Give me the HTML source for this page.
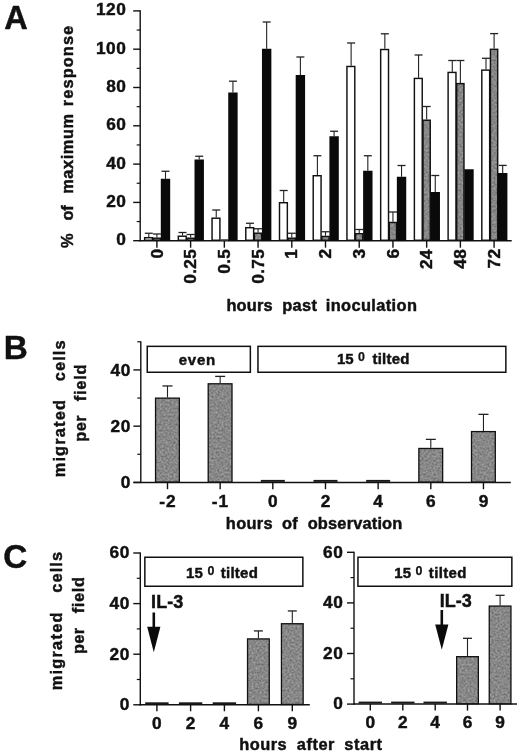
<!DOCTYPE html>
<html><head><meta charset="utf-8"><title>Figure</title>
<style>
html,body{margin:0;padding:0;background:#fff;}
svg{display:block;}
text{font-family:"Liberation Sans",Arial,Helvetica,sans-serif;font-weight:bold;fill:#111;stroke:#111;stroke-width:0.45;font-kerning:none;white-space:pre;}
</style></head><body>
<svg width="520" height="755" viewBox="0 0 520 755">
<defs>
<filter id="nz" x="0" y="0" width="1" height="1" color-interpolation-filters="sRGB">
<feTurbulence type="fractalNoise" baseFrequency="0.5" numOctaves="2" seed="7" result="t"/>
<feColorMatrix in="t" type="matrix" values="0.36 0 0 0 0.35  0.36 0 0 0 0.35  0.36 0 0 0 0.35  0 0 0 0 1" result="g"/>
<feComposite in="g" in2="SourceGraphic" operator="in"/>
</filter>
</defs>
<rect width="520" height="755" fill="#fff"/>
<line x1="140.20" y1="10.30" x2="140.20" y2="241.30" stroke="#111" stroke-width="1.4"/>
<line x1="133.20" y1="240.70" x2="140.20" y2="240.70" stroke="#111" stroke-width="1.4"/>
<text y="245.25" font-size="17.3"><tspan x="116.36" letter-spacing="0.000">0</tspan></text>
<line x1="133.20" y1="202.40" x2="140.20" y2="202.40" stroke="#111" stroke-width="1.4"/>
<text y="206.95" font-size="17.3"><tspan x="106.14" letter-spacing="0.600">20</tspan></text>
<line x1="133.20" y1="164.10" x2="140.20" y2="164.10" stroke="#111" stroke-width="1.4"/>
<text y="168.65" font-size="17.3"><tspan x="106.14" letter-spacing="0.600">40</tspan></text>
<line x1="133.20" y1="125.80" x2="140.20" y2="125.80" stroke="#111" stroke-width="1.4"/>
<text y="130.35" font-size="17.3"><tspan x="106.14" letter-spacing="0.600">60</tspan></text>
<line x1="133.20" y1="87.50" x2="140.20" y2="87.50" stroke="#111" stroke-width="1.4"/>
<text y="92.05" font-size="17.3"><tspan x="106.14" letter-spacing="0.600">80</tspan></text>
<line x1="133.20" y1="49.20" x2="140.20" y2="49.20" stroke="#111" stroke-width="1.4"/>
<text y="53.75" font-size="17.3"><tspan x="95.92" letter-spacing="0.600">100</tspan></text>
<line x1="133.20" y1="10.90" x2="140.20" y2="10.90" stroke="#111" stroke-width="1.4"/>
<text y="15.45" font-size="17.3"><tspan x="95.92" letter-spacing="0.600">120</tspan></text>
<line x1="136.70" y1="221.55" x2="140.20" y2="221.55" stroke="#111" stroke-width="1.2"/>
<line x1="136.70" y1="183.25" x2="140.20" y2="183.25" stroke="#111" stroke-width="1.2"/>
<line x1="136.70" y1="144.95" x2="140.20" y2="144.95" stroke="#111" stroke-width="1.2"/>
<line x1="136.70" y1="106.65" x2="140.20" y2="106.65" stroke="#111" stroke-width="1.2"/>
<line x1="136.70" y1="68.35" x2="140.20" y2="68.35" stroke="#111" stroke-width="1.2"/>
<line x1="136.70" y1="30.05" x2="140.20" y2="30.05" stroke="#111" stroke-width="1.2"/>
<line x1="139.50" y1="240.70" x2="511.70" y2="240.70" stroke="#111" stroke-width="1.5"/>
<line x1="156.90" y1="240.70" x2="156.90" y2="247.70" stroke="#111" stroke-width="1.4"/>
<text transform="translate(162.55,0) rotate(-90)" font-size="17.3"><tspan x="-258.54" letter-spacing="0.000">0</tspan></text>
<line x1="148.80" y1="233.25" x2="148.80" y2="237.00" stroke="#222" stroke-width="1.1"/>
<line x1="144.80" y1="233.25" x2="152.80" y2="233.25" stroke="#222" stroke-width="1.3"/>
<rect x="144.62" y="237.72" width="7.85" height="2.55" fill="#fff" stroke="#111" stroke-width="1.45"/>
<line x1="156.90" y1="234.00" x2="156.90" y2="237.50" stroke="#222" stroke-width="1.1"/>
<line x1="152.90" y1="234.00" x2="160.90" y2="234.00" stroke="#222" stroke-width="1.3"/>
<rect x="153.22" y="238.22" width="7.25" height="2.05" fill="#8c8c8c" filter="url(#nz)"/>
<rect x="153.22" y="238.22" width="7.25" height="2.05" fill="none" stroke="#111" stroke-width="1.45"/>
<line x1="165.50" y1="171.25" x2="165.50" y2="178.75" stroke="#222" stroke-width="1.1"/>
<line x1="161.50" y1="171.25" x2="169.50" y2="171.25" stroke="#222" stroke-width="1.3"/>
<rect x="160.80" y="178.75" width="9.4" height="62.25" fill="#0a0a0a"/>
<line x1="190.62" y1="240.70" x2="190.62" y2="247.70" stroke="#111" stroke-width="1.4"/>
<text transform="translate(196.27,0) rotate(-90)" font-size="17.3"><tspan x="-283.71" letter-spacing="0.300">0.25</tspan></text>
<line x1="182.52" y1="232.50" x2="182.52" y2="235.50" stroke="#222" stroke-width="1.1"/>
<line x1="178.52" y1="232.50" x2="186.52" y2="232.50" stroke="#222" stroke-width="1.3"/>
<rect x="178.34" y="236.22" width="7.85" height="4.05" fill="#fff" stroke="#111" stroke-width="1.45"/>
<line x1="190.62" y1="234.50" x2="190.62" y2="237.50" stroke="#222" stroke-width="1.1"/>
<line x1="186.62" y1="234.50" x2="194.62" y2="234.50" stroke="#222" stroke-width="1.3"/>
<rect x="186.94" y="238.22" width="7.25" height="2.05" fill="#8c8c8c" filter="url(#nz)"/>
<rect x="186.94" y="238.22" width="7.25" height="2.05" fill="none" stroke="#111" stroke-width="1.45"/>
<line x1="199.22" y1="156.25" x2="199.22" y2="159.50" stroke="#222" stroke-width="1.1"/>
<line x1="195.22" y1="156.25" x2="203.22" y2="156.25" stroke="#222" stroke-width="1.3"/>
<rect x="194.52" y="159.50" width="9.4" height="81.50" fill="#0a0a0a"/>
<line x1="224.34" y1="240.70" x2="224.34" y2="247.70" stroke="#111" stroke-width="1.4"/>
<text transform="translate(229.99,0) rotate(-90)" font-size="17.3"><tspan x="-273.79" letter-spacing="0.300">0.5</tspan></text>
<line x1="216.24" y1="210.00" x2="216.24" y2="217.50" stroke="#222" stroke-width="1.1"/>
<line x1="212.24" y1="210.00" x2="220.24" y2="210.00" stroke="#222" stroke-width="1.3"/>
<rect x="212.06" y="218.22" width="7.85" height="22.05" fill="#fff" stroke="#111" stroke-width="1.45"/>
<line x1="220.14" y1="239.80" x2="228.64" y2="239.80" stroke="#555" stroke-width="1.4"/>
<line x1="232.94" y1="81.20" x2="232.94" y2="92.50" stroke="#222" stroke-width="1.1"/>
<line x1="228.94" y1="81.20" x2="236.94" y2="81.20" stroke="#222" stroke-width="1.3"/>
<rect x="228.24" y="92.50" width="9.4" height="148.50" fill="#0a0a0a"/>
<line x1="258.06" y1="240.70" x2="258.06" y2="247.70" stroke="#111" stroke-width="1.4"/>
<text transform="translate(263.71,0) rotate(-90)" font-size="17.3"><tspan x="-283.71" letter-spacing="0.300">0.75</tspan></text>
<line x1="249.96" y1="223.25" x2="249.96" y2="227.00" stroke="#222" stroke-width="1.1"/>
<line x1="245.96" y1="223.25" x2="253.96" y2="223.25" stroke="#222" stroke-width="1.3"/>
<rect x="245.78" y="227.72" width="7.85" height="12.55" fill="#fff" stroke="#111" stroke-width="1.45"/>
<line x1="258.06" y1="228.75" x2="258.06" y2="232.50" stroke="#222" stroke-width="1.1"/>
<line x1="254.06" y1="228.75" x2="262.06" y2="228.75" stroke="#222" stroke-width="1.3"/>
<rect x="254.38" y="233.22" width="7.25" height="7.05" fill="#8c8c8c" filter="url(#nz)"/>
<rect x="254.38" y="233.22" width="7.25" height="7.05" fill="none" stroke="#111" stroke-width="1.45"/>
<line x1="266.66" y1="22.00" x2="266.66" y2="48.75" stroke="#222" stroke-width="1.1"/>
<line x1="262.66" y1="22.00" x2="270.66" y2="22.00" stroke="#222" stroke-width="1.3"/>
<rect x="261.96" y="48.75" width="9.4" height="192.25" fill="#0a0a0a"/>
<line x1="291.78" y1="240.70" x2="291.78" y2="247.70" stroke="#111" stroke-width="1.4"/>
<text transform="translate(297.43,0) rotate(-90)" font-size="17.3"><tspan x="-258.76" letter-spacing="0.000">1</tspan></text>
<line x1="283.68" y1="190.50" x2="283.68" y2="202.00" stroke="#222" stroke-width="1.1"/>
<line x1="279.68" y1="190.50" x2="287.68" y2="190.50" stroke="#222" stroke-width="1.3"/>
<rect x="279.50" y="202.72" width="7.85" height="37.55" fill="#fff" stroke="#111" stroke-width="1.45"/>
<line x1="291.78" y1="233.25" x2="291.78" y2="237.50" stroke="#222" stroke-width="1.1"/>
<line x1="287.78" y1="233.25" x2="295.78" y2="233.25" stroke="#222" stroke-width="1.3"/>
<rect x="288.11" y="238.22" width="7.25" height="2.05" fill="#8c8c8c" filter="url(#nz)"/>
<rect x="288.11" y="238.22" width="7.25" height="2.05" fill="none" stroke="#111" stroke-width="1.45"/>
<line x1="300.38" y1="57.00" x2="300.38" y2="75.00" stroke="#222" stroke-width="1.1"/>
<line x1="296.38" y1="57.00" x2="304.38" y2="57.00" stroke="#222" stroke-width="1.3"/>
<rect x="295.68" y="75.00" width="9.4" height="166.00" fill="#0a0a0a"/>
<line x1="325.50" y1="240.70" x2="325.50" y2="247.70" stroke="#111" stroke-width="1.4"/>
<text transform="translate(331.15,0) rotate(-90)" font-size="17.3"><tspan x="-258.55" letter-spacing="0.000">2</tspan></text>
<line x1="317.40" y1="155.75" x2="317.40" y2="175.00" stroke="#222" stroke-width="1.1"/>
<line x1="313.40" y1="155.75" x2="321.40" y2="155.75" stroke="#222" stroke-width="1.3"/>
<rect x="313.22" y="175.72" width="7.85" height="64.55" fill="#fff" stroke="#111" stroke-width="1.45"/>
<line x1="325.50" y1="231.75" x2="325.50" y2="235.75" stroke="#222" stroke-width="1.1"/>
<line x1="321.50" y1="231.75" x2="329.50" y2="231.75" stroke="#222" stroke-width="1.3"/>
<rect x="321.82" y="236.47" width="7.25" height="3.80" fill="#8c8c8c" filter="url(#nz)"/>
<rect x="321.82" y="236.47" width="7.25" height="3.80" fill="none" stroke="#111" stroke-width="1.45"/>
<line x1="334.10" y1="131.25" x2="334.10" y2="136.25" stroke="#222" stroke-width="1.1"/>
<line x1="330.10" y1="131.25" x2="338.10" y2="131.25" stroke="#222" stroke-width="1.3"/>
<rect x="329.40" y="136.25" width="9.4" height="104.75" fill="#0a0a0a"/>
<line x1="359.22" y1="240.70" x2="359.22" y2="247.70" stroke="#111" stroke-width="1.4"/>
<text transform="translate(364.87,0) rotate(-90)" font-size="17.3"><tspan x="-258.62" letter-spacing="0.000">3</tspan></text>
<line x1="351.12" y1="43.00" x2="351.12" y2="65.75" stroke="#222" stroke-width="1.1"/>
<line x1="347.12" y1="43.00" x2="355.12" y2="43.00" stroke="#222" stroke-width="1.3"/>
<rect x="346.94" y="66.47" width="7.85" height="173.80" fill="#fff" stroke="#111" stroke-width="1.45"/>
<line x1="359.22" y1="229.50" x2="359.22" y2="233.00" stroke="#222" stroke-width="1.1"/>
<line x1="355.22" y1="229.50" x2="363.22" y2="229.50" stroke="#222" stroke-width="1.3"/>
<rect x="355.55" y="233.72" width="7.25" height="6.55" fill="#8c8c8c" filter="url(#nz)"/>
<rect x="355.55" y="233.72" width="7.25" height="6.55" fill="none" stroke="#111" stroke-width="1.45"/>
<line x1="367.82" y1="155.75" x2="367.82" y2="170.75" stroke="#222" stroke-width="1.1"/>
<line x1="363.82" y1="155.75" x2="371.82" y2="155.75" stroke="#222" stroke-width="1.3"/>
<rect x="363.12" y="170.75" width="9.4" height="70.25" fill="#0a0a0a"/>
<line x1="392.94" y1="240.70" x2="392.94" y2="247.70" stroke="#111" stroke-width="1.4"/>
<text transform="translate(398.59,0) rotate(-90)" font-size="17.3"><tspan x="-258.62" letter-spacing="0.000">6</tspan></text>
<line x1="384.84" y1="33.80" x2="384.84" y2="48.80" stroke="#222" stroke-width="1.1"/>
<line x1="380.84" y1="33.80" x2="388.84" y2="33.80" stroke="#222" stroke-width="1.3"/>
<rect x="380.67" y="49.52" width="7.85" height="190.75" fill="#fff" stroke="#111" stroke-width="1.45"/>
<line x1="392.94" y1="212.00" x2="392.94" y2="221.75" stroke="#222" stroke-width="1.1"/>
<line x1="388.94" y1="212.00" x2="396.94" y2="212.00" stroke="#222" stroke-width="1.3"/>
<rect x="389.27" y="222.47" width="7.25" height="17.80" fill="#8c8c8c" filter="url(#nz)"/>
<rect x="389.27" y="222.47" width="7.25" height="17.80" fill="none" stroke="#111" stroke-width="1.45"/>
<line x1="401.54" y1="165.50" x2="401.54" y2="176.75" stroke="#222" stroke-width="1.1"/>
<line x1="397.54" y1="165.50" x2="405.54" y2="165.50" stroke="#222" stroke-width="1.3"/>
<rect x="396.84" y="176.75" width="9.4" height="64.25" fill="#0a0a0a"/>
<line x1="426.66" y1="240.70" x2="426.66" y2="247.70" stroke="#111" stroke-width="1.4"/>
<text transform="translate(432.31,0) rotate(-90)" font-size="17.3"><tspan x="-269.07" letter-spacing="0.300">24</tspan></text>
<line x1="418.56" y1="55.00" x2="418.56" y2="77.70" stroke="#222" stroke-width="1.1"/>
<line x1="414.56" y1="55.00" x2="422.56" y2="55.00" stroke="#222" stroke-width="1.3"/>
<rect x="414.38" y="78.42" width="7.85" height="161.85" fill="#fff" stroke="#111" stroke-width="1.45"/>
<line x1="426.66" y1="106.50" x2="426.66" y2="119.50" stroke="#222" stroke-width="1.1"/>
<line x1="422.66" y1="106.50" x2="430.66" y2="106.50" stroke="#222" stroke-width="1.3"/>
<rect x="422.99" y="120.22" width="7.25" height="120.05" fill="#8c8c8c" filter="url(#nz)"/>
<rect x="422.99" y="120.22" width="7.25" height="120.05" fill="none" stroke="#111" stroke-width="1.45"/>
<line x1="435.26" y1="175.50" x2="435.26" y2="192.00" stroke="#222" stroke-width="1.1"/>
<line x1="431.26" y1="175.50" x2="439.26" y2="175.50" stroke="#222" stroke-width="1.3"/>
<rect x="430.56" y="192.00" width="9.4" height="49.00" fill="#0a0a0a"/>
<line x1="460.38" y1="240.70" x2="460.38" y2="247.70" stroke="#111" stroke-width="1.4"/>
<text transform="translate(466.03,0) rotate(-90)" font-size="17.3"><tspan x="-268.64" letter-spacing="0.300">48</tspan></text>
<line x1="452.28" y1="60.50" x2="452.28" y2="71.70" stroke="#222" stroke-width="1.1"/>
<line x1="448.28" y1="60.50" x2="456.28" y2="60.50" stroke="#222" stroke-width="1.3"/>
<rect x="448.11" y="72.42" width="7.85" height="167.85" fill="#fff" stroke="#111" stroke-width="1.45"/>
<line x1="460.38" y1="60.50" x2="460.38" y2="82.90" stroke="#222" stroke-width="1.1"/>
<line x1="456.38" y1="60.50" x2="464.38" y2="60.50" stroke="#222" stroke-width="1.3"/>
<rect x="456.71" y="83.62" width="7.25" height="156.65" fill="#8c8c8c" filter="url(#nz)"/>
<rect x="456.71" y="83.62" width="7.25" height="156.65" fill="none" stroke="#111" stroke-width="1.45"/>
<rect x="464.28" y="169.25" width="9.4" height="71.75" fill="#0a0a0a"/>
<line x1="494.10" y1="240.70" x2="494.10" y2="247.70" stroke="#111" stroke-width="1.4"/>
<text transform="translate(499.75,0) rotate(-90)" font-size="17.3"><tspan x="-268.48" letter-spacing="0.300">72</tspan></text>
<line x1="486.00" y1="58.30" x2="486.00" y2="69.40" stroke="#222" stroke-width="1.1"/>
<line x1="482.00" y1="58.30" x2="490.00" y2="58.30" stroke="#222" stroke-width="1.3"/>
<rect x="481.82" y="70.12" width="7.85" height="170.15" fill="#fff" stroke="#111" stroke-width="1.45"/>
<line x1="494.10" y1="33.60" x2="494.10" y2="48.60" stroke="#222" stroke-width="1.1"/>
<line x1="490.10" y1="33.60" x2="498.10" y2="33.60" stroke="#222" stroke-width="1.3"/>
<rect x="490.43" y="49.33" width="7.25" height="190.95" fill="#8c8c8c" filter="url(#nz)"/>
<rect x="490.43" y="49.33" width="7.25" height="190.95" fill="none" stroke="#111" stroke-width="1.45"/>
<line x1="502.70" y1="165.40" x2="502.70" y2="173.00" stroke="#222" stroke-width="1.1"/>
<line x1="498.70" y1="165.40" x2="506.70" y2="165.40" stroke="#222" stroke-width="1.3"/>
<rect x="498.00" y="173.00" width="9.4" height="68.00" fill="#0a0a0a"/>
<text transform="translate(73.20,0) rotate(-90)" font-size="16.4"><tspan x="-247.98" letter-spacing="0.000">%</tspan> <tspan x="-220.42" letter-spacing="-0.321">of</tspan> <tspan x="-193.76" letter-spacing="0.548">maximum</tspan> <tspan x="-106.16" letter-spacing="1.067">response</tspan></text>
<text y="311.10" font-size="16.4"><tspan x="226.38" letter-spacing="0.203">hours</tspan> <tspan x="282.24" letter-spacing="0.370">past</tspan> <tspan x="325.78" letter-spacing="0.375">inoculation</tspan></text>
<text y="28.50" font-size="32.5"><tspan x="4.19" letter-spacing="0.000">A</tspan></text>
<line x1="140.80" y1="341.20" x2="140.80" y2="483.00" stroke="#111" stroke-width="1.4"/>
<line x1="133.40" y1="482.40" x2="140.80" y2="482.40" stroke="#111" stroke-width="1.4"/>
<text y="488.05" font-size="17.3"><tspan x="120.66" letter-spacing="0.000">0</tspan></text>
<line x1="133.40" y1="426.16" x2="140.80" y2="426.16" stroke="#111" stroke-width="1.4"/>
<text y="431.81" font-size="17.3"><tspan x="110.44" letter-spacing="0.600">20</tspan></text>
<line x1="133.40" y1="369.92" x2="140.80" y2="369.92" stroke="#111" stroke-width="1.4"/>
<text y="375.57" font-size="17.3"><tspan x="110.44" letter-spacing="0.600">40</tspan></text>
<line x1="137.30" y1="454.28" x2="140.80" y2="454.28" stroke="#111" stroke-width="1.2"/>
<line x1="137.30" y1="398.04" x2="140.80" y2="398.04" stroke="#111" stroke-width="1.2"/>
<line x1="137.30" y1="341.80" x2="140.80" y2="341.80" stroke="#111" stroke-width="1.2"/>
<line x1="133.40" y1="482.40" x2="510.80" y2="482.40" stroke="#111" stroke-width="1.5"/>
<line x1="167.50" y1="482.40" x2="167.50" y2="489.20" stroke="#111" stroke-width="1.4"/>
<text y="506.80" font-size="17.3"><tspan x="159.32" letter-spacing="1.000">-2</tspan></text>
<line x1="167.50" y1="385.95" x2="167.50" y2="397.48" stroke="#222" stroke-width="1.1"/>
<line x1="162.50" y1="385.95" x2="172.50" y2="385.95" stroke="#222" stroke-width="1.3"/>
<rect x="155.55" y="398.13" width="23.80" height="83.92" fill="#8c8c8c" filter="url(#nz)"/>
<rect x="155.55" y="398.13" width="23.80" height="83.92" fill="none" stroke="#111" stroke-width="1.3"/>
<line x1="220.16" y1="482.40" x2="220.16" y2="489.20" stroke="#111" stroke-width="1.4"/>
<text y="506.80" font-size="17.3"><tspan x="211.87" letter-spacing="1.000">-1</tspan></text>
<line x1="220.16" y1="376.39" x2="220.16" y2="383.14" stroke="#222" stroke-width="1.1"/>
<line x1="215.16" y1="376.39" x2="225.16" y2="376.39" stroke="#222" stroke-width="1.3"/>
<rect x="208.21" y="383.79" width="23.80" height="98.26" fill="#8c8c8c" filter="url(#nz)"/>
<rect x="208.21" y="383.79" width="23.80" height="98.26" fill="none" stroke="#111" stroke-width="1.3"/>
<line x1="272.82" y1="482.40" x2="272.82" y2="489.20" stroke="#111" stroke-width="1.4"/>
<text y="506.80" font-size="17.3"><tspan x="268.02" letter-spacing="0.000">0</tspan></text>
<line x1="260.82" y1="480.90" x2="284.82" y2="480.90" stroke="#1a1a1a" stroke-width="2.0"/>
<line x1="325.48" y1="482.40" x2="325.48" y2="489.20" stroke="#111" stroke-width="1.4"/>
<text y="506.80" font-size="17.3"><tspan x="320.72" letter-spacing="0.000">2</tspan></text>
<line x1="313.48" y1="480.90" x2="337.48" y2="480.90" stroke="#1a1a1a" stroke-width="2.0"/>
<line x1="378.14" y1="482.40" x2="378.14" y2="489.20" stroke="#111" stroke-width="1.4"/>
<text y="506.80" font-size="17.3"><tspan x="373.24" letter-spacing="0.000">4</tspan></text>
<line x1="366.14" y1="480.90" x2="390.14" y2="480.90" stroke="#1a1a1a" stroke-width="2.0"/>
<line x1="430.80" y1="482.40" x2="430.80" y2="489.20" stroke="#111" stroke-width="1.4"/>
<text y="506.80" font-size="17.3"><tspan x="425.99" letter-spacing="0.000">6</tspan></text>
<line x1="430.80" y1="439.38" x2="430.80" y2="447.81" stroke="#222" stroke-width="1.1"/>
<line x1="425.80" y1="439.38" x2="435.80" y2="439.38" stroke="#222" stroke-width="1.3"/>
<rect x="418.85" y="448.46" width="23.80" height="33.59" fill="#8c8c8c" filter="url(#nz)"/>
<rect x="418.85" y="448.46" width="23.80" height="33.59" fill="none" stroke="#111" stroke-width="1.3"/>
<line x1="483.46" y1="482.40" x2="483.46" y2="489.20" stroke="#111" stroke-width="1.4"/>
<text y="506.80" font-size="17.3"><tspan x="478.67" letter-spacing="0.000">9</tspan></text>
<line x1="483.46" y1="414.35" x2="483.46" y2="430.94" stroke="#222" stroke-width="1.1"/>
<line x1="478.46" y1="414.35" x2="488.46" y2="414.35" stroke="#222" stroke-width="1.3"/>
<rect x="471.51" y="431.59" width="23.80" height="50.46" fill="#8c8c8c" filter="url(#nz)"/>
<rect x="471.51" y="431.59" width="23.80" height="50.46" fill="none" stroke="#111" stroke-width="1.3"/>
<rect x="147.25" y="346.35" width="103.10" height="25.90" fill="#fff" stroke="#111" stroke-width="1.5"/>
<rect x="257.95" y="346.35" width="247.90" height="25.90" fill="#fff" stroke="#111" stroke-width="1.5"/>
<text y="364.50" font-size="15.0"><tspan x="178.84" letter-spacing="0.692">even</tspan></text>
<text y="363.90" font-size="15.0"><tspan x="337.08" letter-spacing="-0.172">15</tspan> <tspan x="358.10" dy="-3.2" font-size="12.4" stroke-width="0.25">0</tspan><tspan dy="3.2"> </tspan><tspan x="372.44" letter-spacing="0.238">tilted</tspan></text>
<text transform="translate(64.70,0) rotate(-90)" font-size="16.4"><tspan x="-477.36" letter-spacing="1.165">migrated</tspan> <tspan x="-381.22" letter-spacing="1.097">cells</tspan></text>
<text transform="translate(86.10,0) rotate(-90)" font-size="16.4"><tspan x="-441.66" letter-spacing="0.379">per</tspan> <tspan x="-401.26" letter-spacing="0.750">field</tspan></text>
<text y="529.20" font-size="16.4"><tspan x="225.78" letter-spacing="0.353">hours</tspan> <tspan x="282.08" letter-spacing="0.079">of</tspan> <tspan x="307.68" letter-spacing="0.175">observation</tspan></text>
<text y="358.80" font-size="33.3"><tspan x="3.82" letter-spacing="0.000">B</tspan></text>
<line x1="140.30" y1="552.40" x2="140.30" y2="705.40" stroke="#111" stroke-width="1.4"/>
<line x1="133.30" y1="704.80" x2="140.30" y2="704.80" stroke="#111" stroke-width="1.4"/>
<text y="710.15" font-size="17.3"><tspan x="119.66" letter-spacing="0.000">0</tspan></text>
<line x1="133.30" y1="654.20" x2="140.30" y2="654.20" stroke="#111" stroke-width="1.4"/>
<text y="659.55" font-size="17.3"><tspan x="109.44" letter-spacing="0.600">20</tspan></text>
<line x1="133.30" y1="603.60" x2="140.30" y2="603.60" stroke="#111" stroke-width="1.4"/>
<text y="608.95" font-size="17.3"><tspan x="109.44" letter-spacing="0.600">40</tspan></text>
<line x1="133.30" y1="553.00" x2="140.30" y2="553.00" stroke="#111" stroke-width="1.4"/>
<text y="558.35" font-size="17.3"><tspan x="109.44" letter-spacing="0.600">60</tspan></text>
<line x1="136.80" y1="679.50" x2="140.30" y2="679.50" stroke="#111" stroke-width="1.2"/>
<line x1="136.80" y1="628.90" x2="140.30" y2="628.90" stroke="#111" stroke-width="1.2"/>
<line x1="136.80" y1="578.30" x2="140.30" y2="578.30" stroke="#111" stroke-width="1.2"/>
<line x1="139.60" y1="704.80" x2="309.80" y2="704.80" stroke="#111" stroke-width="1.5"/>
<line x1="156.90" y1="704.80" x2="156.90" y2="711.30" stroke="#111" stroke-width="1.4"/>
<text y="729.00" font-size="17.3"><tspan x="152.10" letter-spacing="0.000">0</tspan></text>
<line x1="145.20" y1="703.30" x2="168.60" y2="703.30" stroke="#1a1a1a" stroke-width="2.0"/>
<line x1="190.60" y1="704.80" x2="190.60" y2="711.30" stroke="#111" stroke-width="1.4"/>
<text y="729.00" font-size="17.3"><tspan x="185.84" letter-spacing="0.000">2</tspan></text>
<line x1="178.90" y1="703.30" x2="202.30" y2="703.30" stroke="#1a1a1a" stroke-width="2.0"/>
<line x1="224.40" y1="704.80" x2="224.40" y2="711.30" stroke="#111" stroke-width="1.4"/>
<text y="729.00" font-size="17.3"><tspan x="219.50" letter-spacing="0.000">4</tspan></text>
<line x1="212.70" y1="703.30" x2="236.10" y2="703.30" stroke="#1a1a1a" stroke-width="2.0"/>
<line x1="258.40" y1="704.80" x2="258.40" y2="711.30" stroke="#111" stroke-width="1.4"/>
<text y="729.00" font-size="17.3"><tspan x="253.59" letter-spacing="0.000">6</tspan></text>
<line x1="258.40" y1="630.92" x2="258.40" y2="638.26" stroke="#222" stroke-width="1.1"/>
<line x1="253.90" y1="630.92" x2="262.90" y2="630.92" stroke="#222" stroke-width="1.3"/>
<rect x="247.55" y="638.91" width="21.70" height="65.54" fill="#8c8c8c" filter="url(#nz)"/>
<rect x="247.55" y="638.91" width="21.70" height="65.54" fill="none" stroke="#111" stroke-width="1.3"/>
<line x1="292.30" y1="704.80" x2="292.30" y2="711.30" stroke="#111" stroke-width="1.4"/>
<text y="729.00" font-size="17.3"><tspan x="287.51" letter-spacing="0.000">9</tspan></text>
<line x1="292.30" y1="610.94" x2="292.30" y2="623.08" stroke="#222" stroke-width="1.1"/>
<line x1="287.80" y1="610.94" x2="296.80" y2="610.94" stroke="#222" stroke-width="1.3"/>
<rect x="281.45" y="623.73" width="21.70" height="80.72" fill="#8c8c8c" filter="url(#nz)"/>
<rect x="281.45" y="623.73" width="21.70" height="80.72" fill="none" stroke="#111" stroke-width="1.3"/>
<rect x="144.85" y="557.25" width="158.00" height="29.00" fill="#fff" stroke="#111" stroke-width="1.5"/>
<text y="577.80" font-size="15.0"><tspan x="185.98" letter-spacing="0.228">15</tspan> <tspan x="207.50" dy="-3.2" font-size="12.4" stroke-width="0.25">0</tspan><tspan dy="3.2"> </tspan><tspan x="220.74" letter-spacing="0.258">tilted</tspan></text>
<line x1="354.00" y1="551.70" x2="354.00" y2="704.70" stroke="#111" stroke-width="1.4"/>
<line x1="347.00" y1="704.10" x2="354.00" y2="704.10" stroke="#111" stroke-width="1.4"/>
<text y="709.45" font-size="17.3"><tspan x="333.16" letter-spacing="0.000">0</tspan></text>
<line x1="347.00" y1="653.50" x2="354.00" y2="653.50" stroke="#111" stroke-width="1.4"/>
<text y="658.85" font-size="17.3"><tspan x="322.94" letter-spacing="0.600">20</tspan></text>
<line x1="347.00" y1="602.90" x2="354.00" y2="602.90" stroke="#111" stroke-width="1.4"/>
<text y="608.25" font-size="17.3"><tspan x="322.94" letter-spacing="0.600">40</tspan></text>
<line x1="347.00" y1="552.30" x2="354.00" y2="552.30" stroke="#111" stroke-width="1.4"/>
<text y="557.65" font-size="17.3"><tspan x="322.94" letter-spacing="0.600">60</tspan></text>
<line x1="350.50" y1="678.80" x2="354.00" y2="678.80" stroke="#111" stroke-width="1.2"/>
<line x1="350.50" y1="628.20" x2="354.00" y2="628.20" stroke="#111" stroke-width="1.2"/>
<line x1="350.50" y1="577.60" x2="354.00" y2="577.60" stroke="#111" stroke-width="1.2"/>
<line x1="353.30" y1="704.10" x2="517.00" y2="704.10" stroke="#111" stroke-width="1.5"/>
<line x1="370.30" y1="704.10" x2="370.30" y2="710.60" stroke="#111" stroke-width="1.4"/>
<text y="728.20" font-size="17.3"><tspan x="365.50" letter-spacing="0.000">0</tspan></text>
<line x1="358.60" y1="702.60" x2="382.00" y2="702.60" stroke="#1a1a1a" stroke-width="2.0"/>
<line x1="402.80" y1="704.10" x2="402.80" y2="710.60" stroke="#111" stroke-width="1.4"/>
<text y="728.20" font-size="17.3"><tspan x="398.04" letter-spacing="0.000">2</tspan></text>
<line x1="391.10" y1="702.60" x2="414.50" y2="702.60" stroke="#1a1a1a" stroke-width="2.0"/>
<line x1="435.20" y1="704.10" x2="435.20" y2="710.60" stroke="#111" stroke-width="1.4"/>
<text y="728.20" font-size="17.3"><tspan x="430.30" letter-spacing="0.000">4</tspan></text>
<line x1="423.50" y1="702.60" x2="446.90" y2="702.60" stroke="#1a1a1a" stroke-width="2.0"/>
<line x1="467.50" y1="704.10" x2="467.50" y2="710.60" stroke="#111" stroke-width="1.4"/>
<text y="728.20" font-size="17.3"><tspan x="462.69" letter-spacing="0.000">6</tspan></text>
<line x1="467.50" y1="638.32" x2="467.50" y2="656.03" stroke="#222" stroke-width="1.1"/>
<line x1="463.00" y1="638.32" x2="472.00" y2="638.32" stroke="#222" stroke-width="1.3"/>
<rect x="456.65" y="656.68" width="21.70" height="47.07" fill="#8c8c8c" filter="url(#nz)"/>
<rect x="456.65" y="656.68" width="21.70" height="47.07" fill="none" stroke="#111" stroke-width="1.3"/>
<line x1="500.10" y1="704.10" x2="500.10" y2="710.60" stroke="#111" stroke-width="1.4"/>
<text y="728.20" font-size="17.3"><tspan x="495.31" letter-spacing="0.000">9</tspan></text>
<line x1="500.10" y1="595.31" x2="500.10" y2="605.43" stroke="#222" stroke-width="1.1"/>
<line x1="495.60" y1="595.31" x2="504.60" y2="595.31" stroke="#222" stroke-width="1.3"/>
<rect x="489.25" y="606.08" width="21.70" height="97.67" fill="#8c8c8c" filter="url(#nz)"/>
<rect x="489.25" y="606.08" width="21.70" height="97.67" fill="none" stroke="#111" stroke-width="1.3"/>
<rect x="357.95" y="557.25" width="153.90" height="29.00" fill="#fff" stroke="#111" stroke-width="1.5"/>
<text y="577.80" font-size="15.0"><tspan x="394.28" letter-spacing="0.028">15</tspan> <tspan x="415.50" dy="-3.2" font-size="12.4" stroke-width="0.25">0</tspan><tspan dy="3.2"> </tspan><tspan x="428.84" letter-spacing="0.338">tilted</tspan></text>
<text y="608.30" font-size="18"><tspan x="151.12" letter-spacing="0.068">IL-3</tspan></text>
<line x1="153.80" y1="612.50" x2="153.80" y2="627.70" stroke="#0a0a0a" stroke-width="2.6"/>
<polygon points="147.20,626.70 160.40,626.70 153.80,652.30" fill="#0a0a0a"/>
<text y="606.80" font-size="18"><tspan x="439.72" letter-spacing="0.001">IL-3</tspan></text>
<line x1="441.80" y1="610.00" x2="441.80" y2="625.50" stroke="#0a0a0a" stroke-width="2.6"/>
<polygon points="435.20,624.50 448.40,624.50 441.80,649.70" fill="#0a0a0a"/>
<text transform="translate(62.00,0) rotate(-90)" font-size="16.4"><tspan x="-690.36" letter-spacing="1.236">migrated</tspan> <tspan x="-592.72" letter-spacing="1.097">cells</tspan></text>
<text transform="translate(83.60,0) rotate(-90)" font-size="16.4"><tspan x="-654.06" letter-spacing="0.279">per</tspan> <tspan x="-613.36" letter-spacing="0.675">field</tspan></text>
<text y="750.30" font-size="16.4"><tspan x="239.28" letter-spacing="0.478">hours</tspan> <tspan x="296.74" letter-spacing="0.558">after</tspan> <tspan x="344.25" letter-spacing="0.570">start</tspan></text>
<text y="568.20" font-size="33.3"><tspan x="3.15" letter-spacing="0.000">C</tspan></text>
</svg>
</body></html>
